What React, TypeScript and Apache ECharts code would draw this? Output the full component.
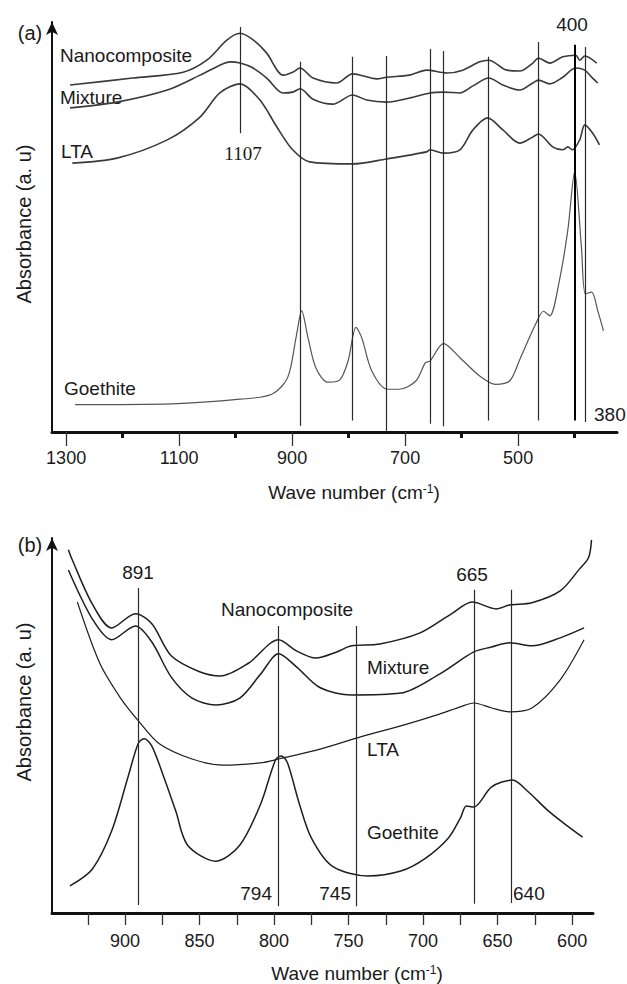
import React, { useEffect, useRef } from 'react';
import * as echarts from 'echarts';

// ---------- Panel (a) data : [wave number (cm-1), absorbance (a.u.)] ----------
const nanoA: number[][] = [[1293,83.6],[1182,85.3],[1093,86.7],[1051,89.6],[1015,94.5],[992,96.1],[969,94.5],[945,91.3],[916,86.0],[899,86.7],[886,87.7],[863,85.3],[821,84.1],[793,86.3],[750,85.1],[733,85.5],[692,86.0],[662,87.2],[626,86.5],[598,87.2],[568,89.2],[552,89.6],[520,87.2],[497,87.0],[474,88.9],[464,90.1],[444,88.9],[421,90.4],[398,90.8],[391,89.6],[382,90.6],[361,88.9]];
const mixA: number[][] = [[1293,78.1],[1210,79.5],[1121,82.4],[1063,86.0],[1028,88.4],[1010,89.2],[992,88.9],[969,87.7],[945,85.3],[916,81.7],[899,81.9],[886,82.7],[863,80.2],[828,79.0],[793,81.2],[768,80.0],[733,79.5],[692,80.5],[656,81.7],[632,81.9],[603,81.7],[580,83.4],[552,85.3],[527,83.6],[497,82.4],[474,84.1],[464,84.8],[444,83.9],[421,85.5],[398,87.7],[382,87.2],[370,85.5],[359,84.1]];
const ltaA: number[][] = [[1289,64.8],[1210,66.0],[1121,70.4],[1063,75.9],[1028,81.7],[992,83.9],[957,80.0],[927,73.5],[899,68.0],[869,65.1],[793,64.6],[733,65.8],[662,67.5],[656,68.0],[632,67.2],[603,68.0],[580,72.8],[554,75.7],[527,72.8],[497,69.6],[474,71.1],[464,71.8],[439,68.7],[421,68.0],[412,68.7],[404,68.0],[391,70.4],[382,74.0],[368,72.0],[356,69.2]];
const goeA: number[][] = [[1284,6.6],[1113,6.8],[992,7.9],[936,9.1],[908,13.1],[893,22.8],[883,29.2],[872,22.8],[858,15.5],[837,12.0],[816,12.5],[801,17.1],[787,25.2],[777,22.8],[759,14.7],[731,10.3],[710,10.3],[681,12.3],[664,16.7],[656,17.1],[632,21.3],[603,17.9],[568,13.5],[540,11.5],[515,12.3],[497,17.5],[469,26.0],[455,29.1],[444,28.0],[427,36.5],[412,48.7],[400,62.7],[388,44.6],[381,33.3],[370,33.7],[359,29.2],[349,24.4]];

const linePosA = [992, 885, 793, 733, 656, 632, 552, 464, 400, 382];
const lineTopA = [97.6, 89.2, 90.4, 90.6, 92.3, 91.8, 90.4, 94.0, 93.3, 92.8];
const lineBotA = [72.0, 1.5, 2.8, 0.3, 2.0, 1.4, 2.8, 2.8, 2.8, 2.4];

const majorTicksA = [1300, 1100, 900, 700, 500];
const minorTicksA = [1200, 1000, 800, 600, 400];

// ---------- Panel (b) data ----------
const nanoB: number[][] = [[938,95.3],[936,93.2],[922,81.1],[909,74.8],[893,78.5],[882,75.9],[869,67.5],[850,63.3],[836,62.2],[817,65.6],[797,71.7],[785,68.8],[772,66.9],[758,68.5],[748,70.1],[729,70.6],[702,73.5],[681,78.5],[667,81.6],[651,79.8],[642,80.8],[627,81.4],[608,84.5],[595,90.3],[589,93.2],[587,97.9]];
const mixB: number[][] = [[938,90.0],[922,77.2],[909,71.7],[893,75.3],[882,71.1],[869,61.9],[855,56.4],[839,54.6],[823,56.4],[809,62.7],[797,68.0],[785,64.6],[769,59.1],[748,57.2],[715,57.7],[689,62.7],[666,68.5],[654,69.8],[642,70.9],[627,70.1],[608,72.2],[592,74.8]];
const ltaB: number[][] = [[932,81.6],[917,65.6],[903,56.4],[891,50.4],[877,44.4],[855,40.4],[834,38.8],[809,39.4],[797,40.4],[769,43.0],[742,46.2],[715,49.1],[689,52.2],[675,54.1],[666,55.1],[654,53.8],[642,52.8],[627,53.8],[608,61.2],[592,71.7]];
const goeB: number[][] = [[937,7.1],[922,11.5],[909,21.5],[898,35.7],[891,44.6],[887,45.7],[882,43.8],[874,35.7],[866,26.8],[858,17.8],[839,13.6],[823,17.8],[809,28.6],[799,40.2],[795,41.2],[791,39.4],[783,28.6],[775,19.7],[761,12.3],[737,9.7],[715,11.0],[699,14.2],[683,19.7],[675,24.9],[671,28.1],[666,27.8],[654,33.1],[640,34.9],[630,32.0],[616,26.8],[603,22.8],[593,19.9]];

const linePosB = [891, 797, 745, 666, 641];
const lineTopB = [85.3, 75.3, 75.3, 84.8, 84.8];
const lineBotB = [2.1, 1.8, 1.8, 2.4, 2.6];

const ticksB = [925, 900, 875, 850, 825, 800, 775, 750, 725, 700, 675, 650, 625, 600];
const labelsB = [900, 850, 800, 750, 700, 650, 600];

const FONT = '"Liberation Sans", Arial, sans-serif';
const INK = '#1a1a1a';

function vLines(pos: number[], top: number[], bot: number[], bold?: number) {
  return pos.map((x, i) => [
    { coord: [x, bot[i]], lineStyle: { color: x === bold ? '#000' : '#2a2a2a', width: x === bold ? 2 : 1.2, type: 'solid' } },
    { coord: [x, top[i]] },
  ]);
}

function txt(text: string, x: number, y: number, align = 'left', extra: any = {}) {
  return {
    type: 'text',
    x,
    y,
    silent: true,
    ...extra,
    style: {
      text,
      fontFamily: FONT,
      fontSize: 19,
      fill: INK,
      align,
      verticalAlign: 'middle',
      ...(extra.style || {}),
    },
  };
}

function lineSeries(data: number[][], idx: number, color: string, width: number, markLine?: any) {
  return {
    type: 'line',
    xAxisIndex: idx,
    yAxisIndex: idx === 0 ? 0 : 1,
    data,
    showSymbol: false,
    smooth: 0.3,
    lineStyle: { color, width },
    silent: true,
    ...(markLine ? { markLine } : {}),
  };
}

const titleRich = {
  sup: { fontSize: 12, fontFamily: FONT, fill: INK, verticalAlign: 'top', padding: [0, 0, 6, 0] },
};

const plain = (v: number) => String(v);

export default function App() {
  const ref = useRef<HTMLDivElement>(null);
  useEffect(() => {
    document.body.style.margin = '0';
    const chart = echarts.init(ref.current!, null, { renderer: 'svg' });
    const yAxisBase = {
      type: 'value',
      min: 0,
      axisLine: { show: true, onZero: false, symbol: ['none', 'arrow'], symbolSize: [9, 13], lineStyle: { color: '#111', width: 2 } },
      axisTick: { show: false },
      axisLabel: { show: false },
      splitLine: { show: false },
    };
    const option: any = {
      animation: false,
      backgroundColor: '#ffffff',
      grid: [
        { left: 52, right: 10, top: 22, height: 410 },
        { left: 52, right: 34, top: 538, height: 375 },
      ],
      xAxis: [
        {
          gridIndex: 0, type: 'value', inverse: true, min: 325, max: 1325, position: 'bottom',
          axisLine: { onZero: false, lineStyle: { color: '#111', width: 3 } },
          axisTick: { customValues: majorTicksA, length: 14, lineStyle: { color: '#333', width: 1.3 } },
          axisLabel: { customValues: majorTicksA, formatter: plain, margin: 17, fontSize: 18, fontFamily: FONT, color: INK },
          splitLine: { show: false },
        },
        {
          gridIndex: 1, type: 'value', inverse: true, min: 586, max: 949, position: 'bottom',
          axisLine: { onZero: false, lineStyle: { color: '#111', width: 3 } },
          axisTick: { customValues: ticksB, length: 12, lineStyle: { color: '#333', width: 1.3 } },
          axisLabel: { customValues: labelsB, formatter: plain, margin: 19, fontSize: 18, fontFamily: FONT, color: INK },
          splitLine: { show: false },
        },
        {
          gridIndex: 0, type: 'value', inverse: true, min: 325, max: 1325, position: 'bottom',
          axisLine: { show: false, onZero: false },
          axisTick: { customValues: minorTicksA, length: 6, lineStyle: { color: '#111', width: 3 } },
          axisLabel: { show: false },
          splitLine: { show: false },
        },
      ],
      yAxis: [
        { ...yAxisBase, gridIndex: 0, max: 98.8 },
        { ...yAxisBase, gridIndex: 1, max: 98.4 },
      ],
      series: [
        lineSeries(nanoA, 0, '#3a3a3a', 1.6),
        lineSeries(mixA, 0, '#3a3a3a', 1.6),
        lineSeries(ltaA, 0, '#3a3a3a', 1.6),
        lineSeries(goeA, 0, '#555555', 1.2, {
          symbol: ['none', 'none'], silent: true, label: { show: false },
          data: vLines(linePosA, lineTopA, lineBotA, 400),
        }),
        lineSeries(nanoB, 1, '#1e1e1e', 1.5),
        lineSeries(mixB, 1, '#1e1e1e', 1.5),
        lineSeries(ltaB, 1, '#1e1e1e', 1.2),
        lineSeries(goeB, 1, '#1e1e1e', 1.5, {
          symbol: ['none', 'none'], silent: true, label: { show: false },
          data: vLines(linePosB, lineTopB, lineBotB),
        }),
      ],
      graphic: [
        // panel (a)
        txt('(a)', 30, 33, 'center', { style: { fontSize: 20 } }),
        txt('Nanocomposite', 60, 55),
        txt('Mixture', 60, 97),
        txt('LTA', 61, 151),
        txt('Goethite', 64, 388),
        txt('1107', 243, 153, 'center', { style: { fontFamily: '"Liberation Serif", "Times New Roman", serif' } }),
        txt('400', 572, 24, 'center'),
        txt('380', 594, 414),
        txt('Absorbance (a. u)', 24, 224, 'center', { rotation: Math.PI / 2, style: { fontSize: 20 } }),
        txt('Wave number (cm{sup|-1})', 354, 492, 'center', { style: { rich: titleRich } }),
        // panel (b)
        txt('(b)', 30, 545, 'center', { style: { fontSize: 20 } }),
        txt('891', 138, 572, 'center'),
        txt('665', 472, 574, 'center'),
        txt('Nanocomposite', 287, 609, 'center'),
        txt('Mixture', 367, 667),
        txt('LTA', 367, 749),
        txt('Goethite', 367, 832),
        txt('794', 272, 893, 'right'),
        txt('745', 351, 893, 'right'),
        txt('640', 513, 893),
        txt('Absorbance (a. u)', 24, 702, 'center', { rotation: Math.PI / 2, style: { fontSize: 20 } }),
        txt('Wave number (cm{sup|-1})', 357, 973, 'center', { style: { rich: titleRich } }),
      ],
    };
    chart.setOption(option);
    return () => chart.dispose();
  }, []);
  return <div ref={ref} style={{ position: 'absolute', left: 0, top: 0, width: 627, height: 984 }} />;
}
